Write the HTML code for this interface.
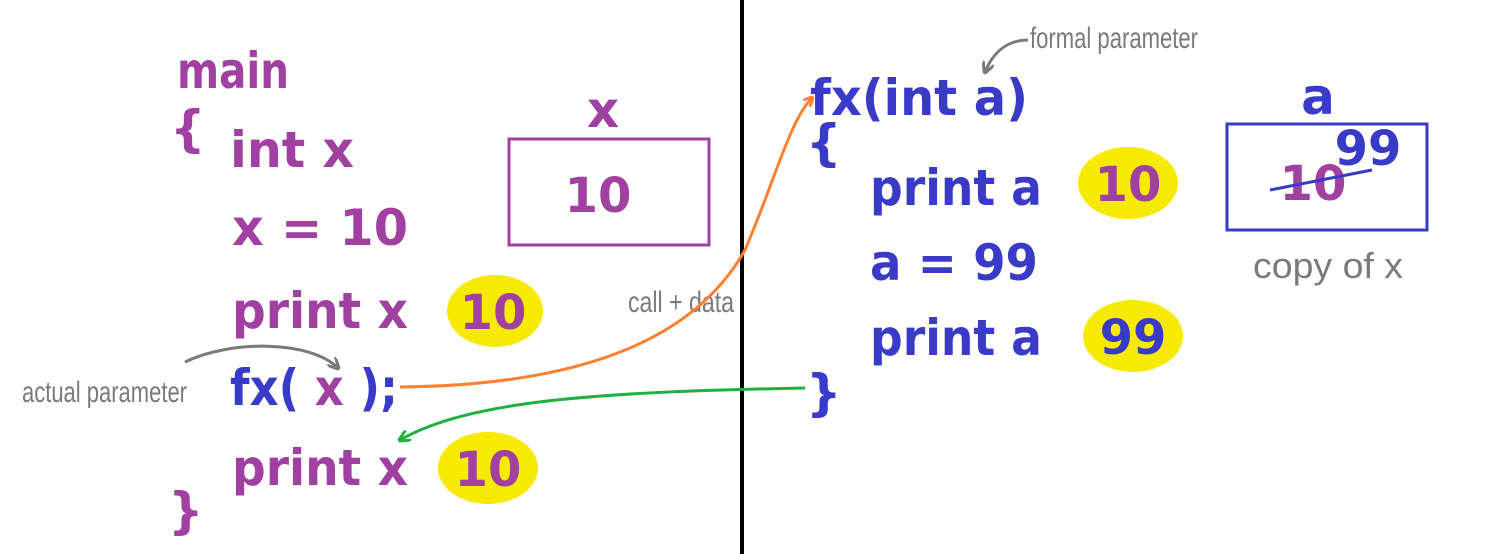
<!DOCTYPE html>
<html><head><meta charset="utf-8"><style>
html,body{margin:0;padding:0;background:#fff;}
svg{display:block;}
.p{fill:#a040a0;font-family:"DejaVu Sans","Liberation Sans",sans-serif;font-weight:bold;font-size:50px;}
.b{fill:#3a3ac8;font-family:"DejaVu Sans","Liberation Sans",sans-serif;font-weight:bold;font-size:50px;}
.n{font-size:48px;}
.g{fill:#7a7a7a;font-family:"Liberation Sans Narrow","Liberation Sans",sans-serif;font-size:30px;}
</style></head><body>
<svg width="1486" height="554" viewBox="0 0 1486 554">
<defs>
<marker id="ao" markerWidth="10" markerHeight="10" refX="8" refY="5" orient="auto" markerUnits="userSpaceOnUse"><path d="M0,0 L10,5 L0,10" fill="none" stroke="#ff8030" stroke-width="3"/></marker>
<marker id="ag" markerWidth="12" markerHeight="12" refX="10" refY="6" orient="auto" markerUnits="userSpaceOnUse"><path d="M0,0 L12,6 L0,12" fill="none" stroke="#20b040" stroke-width="3"/></marker>
<marker id="ay" markerWidth="12" markerHeight="12" refX="10" refY="6" orient="auto" markerUnits="userSpaceOnUse"><path d="M0,0 L12,6 L0,12" fill="none" stroke="#7a7a7a" stroke-width="3"/></marker>
</defs>
<rect x="740" y="0" width="4" height="554" fill="#000"/>

<text class="p" x="177" y="88" textLength="112" lengthAdjust="spacingAndGlyphs">main</text>
<text class="p" x="170" y="146">{</text>
<text class="p" x="230" y="167" textLength="124" lengthAdjust="spacingAndGlyphs">int x</text>
<text class="p" x="232" y="245" textLength="176" lengthAdjust="spacingAndGlyphs">x = 10</text>
<text class="p" x="232" y="328" textLength="176" lengthAdjust="spacingAndGlyphs">print x</text>
<ellipse cx="495" cy="311" rx="48" ry="36" fill="#f5ea00"/>
<text class="p n" x="493" y="329" text-anchor="middle">10</text>
<text x="230" y="405" textLength="168" lengthAdjust="spacingAndGlyphs"><tspan class="b">fx(</tspan><tspan class="p"> x </tspan><tspan class="b">);</tspan></text>
<text class="p" x="232" y="485" textLength="176" lengthAdjust="spacingAndGlyphs">print x</text>
<ellipse cx="488" cy="468" rx="50" ry="36" fill="#f5ea00"/>
<text class="p n" x="488" y="486" text-anchor="middle">10</text>
<text class="p" x="168" y="528">}</text>

<text class="p" x="603" y="127" text-anchor="middle">x</text>
<rect x="509" y="139" width="200" height="106" fill="none" stroke="#a040a0" stroke-width="3"/>
<text class="p n" x="598" y="212" text-anchor="middle">10</text>

<text class="g" x="22" y="402" textLength="165" lengthAdjust="spacingAndGlyphs">actual parameter</text>
<path d="M185,362 C230,340 310,340 338,368" fill="none" stroke="#7a7a7a" stroke-width="3" marker-end="url(#ay)"/>
<text class="g" x="628" y="312" textLength="106" lengthAdjust="spacingAndGlyphs">call + data</text>

<path d="M400,387 C600,385 700,330 745,250 C775,180 790,120 812,98" fill="none" stroke="#ff8030" stroke-width="3" marker-end="url(#ao)"/>
<path d="M805,388 C600,392 470,400 400,440" fill="none" stroke="#20b040" stroke-width="3" marker-end="url(#ag)"/>

<text class="b" x="810" y="115" textLength="218" lengthAdjust="spacingAndGlyphs">fx(int a)</text>
<text class="g" x="1030" y="48" textLength="168" lengthAdjust="spacingAndGlyphs">formal parameter</text>
<path d="M1028,40 C1005,40 992,55 985,72" fill="none" stroke="#7a7a7a" stroke-width="3" marker-end="url(#ay)"/>
<text class="b" x="806" y="160">{</text>
<text class="b" x="870" y="205" textLength="172" lengthAdjust="spacingAndGlyphs">print a</text>
<ellipse cx="1128" cy="183" rx="50" ry="36" fill="#f5ea00"/>
<text class="p n" x="1128" y="201" text-anchor="middle">10</text>
<text class="b" x="870" y="280" textLength="168" lengthAdjust="spacingAndGlyphs">a = 99</text>
<text class="b" x="870" y="355" textLength="172" lengthAdjust="spacingAndGlyphs">print a</text>
<ellipse cx="1133" cy="336" rx="50" ry="36" fill="#f5ea00"/>
<text class="b n" x="1133" y="354" text-anchor="middle">99</text>
<text class="b" x="806" y="410">}</text>

<text class="b" x="1318" y="114" text-anchor="middle">a</text>
<rect x="1227" y="124" width="200" height="106" fill="none" stroke="#3a3ac8" stroke-width="3"/>
<text class="p n" x="1313" y="200" text-anchor="middle">10</text>
<line x1="1270" y1="190" x2="1372" y2="170" stroke="#3a3ac8" stroke-width="3"/>
<text class="b n" x="1368" y="165" text-anchor="middle">99</text>
<text class="g" x="1253" y="278" textLength="150" lengthAdjust="spacingAndGlyphs" style="font-size:36px">copy of x</text>
</svg>
</body></html>
